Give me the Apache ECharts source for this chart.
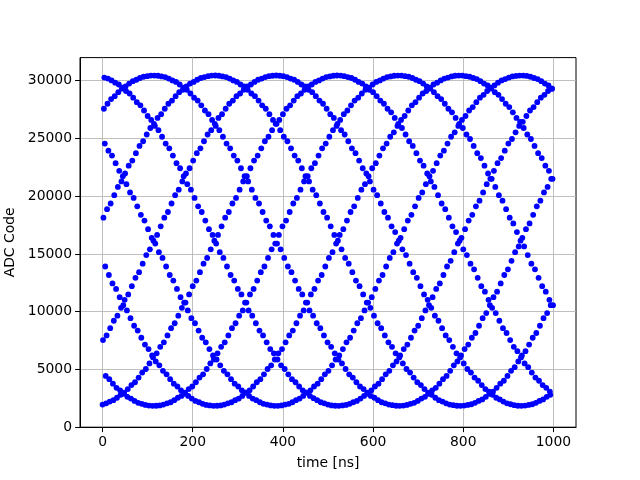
<!DOCTYPE html>
<html>
<head>
<meta charset="utf-8">
<script src="https://cdn.jsdelivr.net/npm/echarts@6/dist/echarts.min.js"></script>
<style>
  html, body { margin: 0; padding: 0; background: #fff; }
  #chart { width: 640px; height: 480px; }
</style>
</head>
<body>
<div id="chart"></div>
<script>
// ADC codes, one array per interleaved strand
// strand k holds the samples taken at t = k, k+8, k+16, ... ns
const adcStrand0 = [1957,2067,2216,2337,2550,2800,2987,3297,3643,3892,4295,4729,5037,5523,6038,6397,6958,7346,7948,8572,9000,9658,10334,10793,11494,12208,12691,13421,14160,14655,15402,16150,16649,17396,18140,18633,19367,19851,20569,21275,21737,22419,23083,23515,24146,24756,25149,25719,26262,26608,27104,27571,27864,28277,28657,28891,29214,29500,29671,29896,30025,30187,30311,30372,30430,30450,30441,30396,30311,30233,30084,29896,29750,29500,29214,29003,28657,28277,28005,27571,27263,26777,26262,25903,25342,24756,24352,23728,23083,22642,21966,21275,20806,20092,19367,18879,18140,17396,16898,16150,15402,14904,14160,13667,12933,12208,11731,11025,10334,9881,9217,8572,8154,7544,6958,6581,6038,5523,5196,4729,4295,4023,3643,3409,3086]
const adcStrand1 = [7544,7948,8572,9217,9658,10334,11025,11494,12208,12933,13421,14160,14904,15402,16150,16649,17396,18140,18633,19367,20092,20569,21275,21966,22419,23083,23728,24146,24756,25342,25719,26262,26777,27104,27571,28005,28277,28657,28891,29214,29500,29671,29896,30084,30187,30311,30396,30430,30450,30430,30396,30311,30187,30084,29896,29671,29500,29214,29003,28657,28277,28005,27571,27104,26777,26262,25719,25342,24756,24146,23728,23083,22419,21966,21275,20569,20092,19367,18633,18140,17396,16898,16150,15402,14904,14160,13421,12933,12208,11494,11025,10334,9658,9217,8572,7948,7544,6958,6397,6038,5523,5037,4729,4295,4023,3643,3297,3086,2800,2550,2404,2216,2067,1989,1904,1859,1850,1870,1928,1989,2113,2275,2404,2629,2800]
const adcStrand2 = [18140,18879,19367,20092,20806,21275,21966,22642,23083,23728,24352,24756,25342,25903,26262,26777,27104,27571,28005,28277,28657,29003,29214,29500,29750,29896,30084,30233,30311,30396,30441,30450,30430,30372,30311,30187,30025,29896,29671,29500,29214,28891,28657,28277,27864,27571,27104,26608,26262,25719,25149,24756,24146,23515,23083,22419,21737,21275,20569,20092,19367,18633,18140,17396,16649,16150,15402,14655,14160,13421,12691,12208,11494,10793,10334,9658,9000,8572,7948,7346,6958,6397,6038,5523,5037,4729,4295,3892,3643,3297,2987,2800,2550,2337,2216,2067,1957,1904,1859,1852,1870,1928,1989,2113,2275,2404,2629,2891,3086,3409,3766,4023,4436,4881,5196,5692,6216,6581,7151,7745,8154,8785,9437,9881,10563]
const adcStrand3 = [27571,28005,28408,28657,29003,29313,29500,29750,29963,30084,30233,30343,30396,30441,30448,30430,30372,30311,30187,30025,29896,29671,29409,29214,28891,28534,28277,27864,27419,27104,26608,26084,25719,25149,24555,24146,23515,23083,22419,21737,21275,20569,19851,19367,18633,17893,17396,16649,15900,15402,14655,13913,13421,12691,11969,11494,10793,10107,9658,9000,8572,7948,7346,6958,6397,5863,5523,5037,4581,4295,3892,3524,3297,2987,2712,2550,2337,2162,2067,1957,1904,1859,1852,1870,1928,2026,2113,2275,2475,2629,2891,3190,3409,3766,4157,4436,4881,5358,5692,6216,6768,7151,7745,8154,8785,9437,9881,10563,11259,11731,12449,13177,13667,14407,15152,15651,16400,17148,17645,18387,19123,19609,20331,20806,21507]
const adcStrand4 = [30274,30187,30025,29825,29671,29409,29110,28891,28534,28143,27864,27419,26942,26608,26084,25719,25149,24555,24146,23515,22863,22419,21737,21041,20569,19851,19123,18633,17893,17148,16649,15900,15152,14655,13913,13177,12691,11969,11494,10793,10107,9658,9000,8362,7948,7346,6768,6397,5863,5358,5037,4581,4157,3892,3524,3190,2987,2712,2512,2337,2162,2067,1957,1885,1859,1852,1885,1928,2026,2162,2275,2475,2712,2891,3190,3524,3766,4157,4581,4881,5358,5692,6216,6768,7151,7745,8362,8785,9437,10107,10563,11259,11969,12449,13177,13913,14407,15152,15900,16400,17148,17893,18387,19123,19609,20331,21041,21507,22193,22863,23300,23938,24555,24954,25532,26084,26437,26942,27419,27719,28143,28534,28776,29110,29313]
const adcStrand5 = [24555,23938,23515,22863,22193,21737,21041,20331,19851,19123,18387,17893,17148,16400,15900,15152,14655,13913,13177,12691,11969,11259,10793,10107,9437,9000,8362,7745,7346,6768,6216,5863,5358,4881,4581,4157,3766,3524,3190,2987,2712,2475,2337,2162,2026,1957,1885,1852,1852,1885,1957,2026,2162,2337,2475,2712,2987,3190,3524,3766,4157,4581,4881,5358,5863,6216,6768,7346,7745,8362,9000,9437,10107,10793,11259,11969,12691,13177,13913,14655,15152,15900,16400,17148,17893,18387,19123,19851,20331,21041,21737,22193,22863,23515,23938,24555,25149,25532,26084,26608,26942,27419,27719,28143,28534,28776,29110,29409,29588,29825,30025,30138,30274,30372,30415,30448,30441,30415,30343,30233,30138,29963,29750,29588,29313]
const adcStrand6 = [13913,13177,12449,11969,11259,10563,10107,9437,8785,8362,7745,7151,6768,6216,5692,5358,4881,4581,4157,3766,3524,3190,2891,2712,2475,2275,2162,2026,1928,1885,1852,1859,1885,1957,2067,2162,2337,2475,2712,2987,3190,3524,3892,4157,4581,5037,5358,5863,6397,6768,7346,7948,8362,9000,9658,10107,10793,11494,11969,12691,13177,13913,14655,15152,15900,16649,17148,17893,18633,19123,19851,20569,21041,21737,22419,22863,23515,24146,24555,25149,25532,26084,26608,26942,27419,27864,28143,28534,28891,29110,29409,29671,29825,30025,30187,30274,30372,30430,30448,30441,30396,30343,30233,30138,29963,29750,29588,29313,29003,28776,28408,28005,27719,27263,26777,26437,25903,25342,24954,24352,23728,23300,22642,22193,21507]
const adcStrand7 = [4436,4157,3766,3409,3190,2891,2629,2475,2275,2113,2026,1928,1870,1852,1859,1885,1957,2067,2162,2337,2550,2712,2987,3297,3524,3892,4295,4581,5037,5523,5863,6397,6958,7346,7948,8572,9000,9658,10107,10793,11494,11969,12691,13421,13913,14655,15402,15900,16649,17396,17893,18633,19367,19851,20569,21275,21737,22419,22863,23515,24146,24555,25149,25719,26084,26608,27104,27419,27864,28277,28534,28891,29214,29409,29671,29896,30025,30187,30311,30372,30430,30448,30441,30396,30343,30233,30084,29963,29750,29500,29313,29003,28657,28408,28005,27571,27263,26777,26262,25903,25342,24954,24352,23728,23300,22642,21966,21507,20806,20092,19609,18879,18140,17645,16898,16150,15651,14904,14160,13667,12933,12208,11731,11025,10563]

const strands = [adcStrand0, adcStrand1, adcStrand2, adcStrand3, adcStrand4, adcStrand5, adcStrand6, adcStrand7]
const xTicks = [0, 200, 400, 600, 800, 1000]
const yTicks = [0, 5000, 10000, 15000, 20000, 25000, 30000]

// sample time in ns for every code
const points = []
strands.forEach((codes, k) => {
  codes.forEach((code, i) => {
    points.push([k + strands.length * i, code])
  })
})

const font = 'DejaVu Sans'
const fontSize = 13.9

const option = {
  animation: false,
  backgroundColor: '#fff',
  grid: {
    left: 80,
    right: 64,
    top: 57.6,
    bottom: 52.8,
    outerBoundsMode: 'none',
    containLabel: false,
    show: true,
    borderColor: '#000',
    borderWidth: 1,
    backgroundColor: 'transparent'
  },
  xAxis: {
    type: 'value',
    min: -50,
    max: 1050,
    name: 'time [ns]',
    nameLocation: 'middle',
    nameGap: 29,
    nameTextStyle: { fontFamily: font, fontSize: fontSize, color: '#000' },
    axisLine: { show: true, onZero: false, lineStyle: { color: '#000', width: 1 } },
    axisTick: { show: true, customValues: xTicks, length: 4.9, lineStyle: { color: '#000', width: 1 } },
    axisLabel: {
      customValues: xTicks,
      formatter: (v) => String(v),
      fontFamily: font, fontSize: fontSize, color: '#000', margin: 8
    },
    splitLine: { show: true, lineStyle: { color: '#b0b0b0', width: 0.8 } }
  },
  yAxis: {
    type: 'value',
    min: 0,
    max: 32000,
    name: 'ADC Code',
    nameLocation: 'middle',
    nameGap: 58,
    nameTextStyle: { fontFamily: font, fontSize: fontSize, color: '#000' },
    axisLine: { show: true, onZero: false, lineStyle: { color: '#000', width: 1 } },
    axisTick: { show: true, customValues: yTicks, length: 4.9, lineStyle: { color: '#000', width: 1 } },
    axisLabel: {
      customValues: yTicks,
      formatter: (v) => String(v),
      fontFamily: font, fontSize: fontSize, color: '#000', margin: 8
    },
    splitLine: { show: true, lineStyle: { color: '#b0b0b0', width: 0.8 } }
  },
  series: [{
    type: 'scatter',
    data: points,
    symbol: 'circle',
    symbolSize: 5.8,
    itemStyle: { color: '#0000ff', opacity: 1 }
  }]
}

const myChart = echarts.init(document.getElementById('chart'))
myChart.setOption(option, true)
</script>
</body>
</html>
